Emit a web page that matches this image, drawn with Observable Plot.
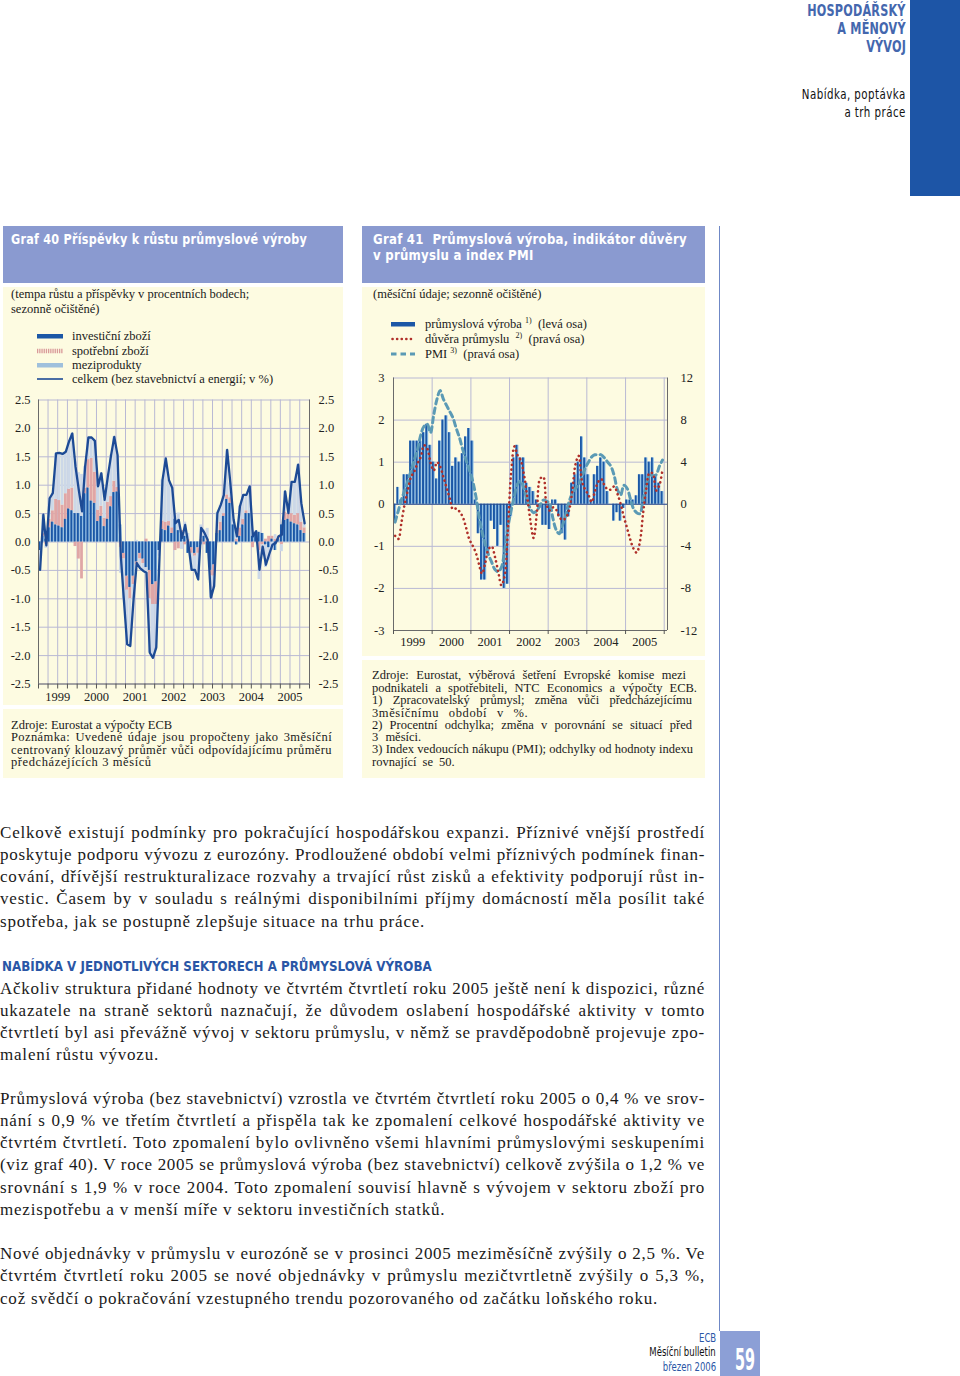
<!DOCTYPE html>
<html><head><meta charset="utf-8">
<script src="https://cdn.jsdelivr.net/npm/d3@7"></script>
<script src="https://cdn.jsdelivr.net/npm/@observablehq/plot@0.6"></script>
<style>
body{margin:0;background:#fff;}
#page{position:relative;width:960px;height:1376px;overflow:hidden;font-family:"Liberation Serif","Times New Roman",serif;color:#1a1a1a;}
.a{position:absolute;white-space:nowrap;}
.cond{font-family:"DejaVu Sans",sans-serif;}
.hdr{right:54px;text-align:right;font-weight:bold;color:#4467ae;font-size:16px;height:18px;line-height:18px;letter-spacing:0.3px;transform:scaleX(0.70);transform-origin:right center;}
.sub{right:54px;text-align:right;color:#111;font-size:13.5px;height:18px;line-height:18px;letter-spacing:0.6px;transform:scaleX(0.76);transform-origin:right center;}
.band{background:#8a9ad0;}
.box{background:#fdfbe1;}
.ttl{color:#fff;font-weight:bold;font-size:14px;height:17px;line-height:17px;letter-spacing:0.3px;transform-origin:left center;}
.sm{font-size:12.5px;height:14px;line-height:14px;}
.bl{left:0;width:705px;height:22px;line-height:22px;font-size:17px;}
.j{text-align:justify;text-align-last:justify;white-space:normal;overflow:hidden;}
.ft{right:244px;font-size:11.5px;line-height:14px;text-align:right;transform:scaleX(0.74);transform-origin:right center;}
sup{font-size:8px;vertical-align:5px;line-height:0;}
</style></head>
<body><div id="page">
<!-- header -->
<div class="a cond hdr" style="top:2px">HOSPODÁŘSKÝ</div>
<div class="a cond hdr" style="top:20px">A MĚNOVÝ</div>
<div class="a cond hdr" style="top:38px">VÝVOJ</div>
<div class="a cond sub" style="top:85px">Nabídka, poptávka</div>
<div class="a cond sub" style="top:103px">a trh práce</div>
<div class="a" style="left:910px;top:0;width:50px;height:196px;background:#1d55a6"></div>

<!-- vertical rule -->
<div class="a" style="left:719px;top:226px;width:1px;height:1105px;background:#6f88c6"></div>

<!-- chart 40 -->
<div class="a band" style="left:3px;top:226px;width:340px;height:57px"></div>
<div class="a cond ttl" style="left:11px;top:231px;transform:scaleX(0.80)">Graf 40 Příspěvky k růstu průmyslové výroby</div>
<div class="a box" style="left:3px;top:287px;width:340px;height:418px"></div>
<div class="a box" style="left:3px;top:709px;width:340px;height:69px"></div>
<div class="a sm" style="left:11px;top:287px">(tempa růstu a příspěvky v procentních bodech;</div>
<div class="a sm" style="left:11px;top:302px">sezonně očištěné)</div>
<div id="leg40"></div>
<div id="c40" class="a" style="left:3px;top:388px"></div>
<div class="a sm" style="left:11px;top:718px">Zdroje: Eurostat a výpočty ECB</div>
<div class="a sm j" style="left:11px;top:730px;width:321px;letter-spacing:0.4px">Poznámka: Uvedené údaje jsou propočteny jako 3měsíční</div>
<div class="a sm j" style="left:11px;top:743px;width:321px;letter-spacing:0.4px">centrovaný klouzavý průměr vůči odpovídajícímu průměru</div>
<div class="a sm" style="left:11px;top:755px;letter-spacing:0.6px">předcházejících 3 měsíců</div>

<!-- chart 41 -->
<div class="a band" style="left:362px;top:226px;width:343px;height:57px"></div>
<div class="a cond ttl" style="left:373px;top:231px;transform:scaleX(0.84)">Graf 41&nbsp; Průmyslová výroba, indikátor důvěry</div>
<div class="a cond ttl" style="left:373px;top:247px;transform:scaleX(0.84)">v průmyslu a index PMI</div>
<div class="a box" style="left:362px;top:287px;width:343px;height:369px"></div>
<div class="a box" style="left:362px;top:660px;width:343px;height:118px"></div>
<div class="a sm" style="left:373px;top:287px">(měsíční údaje; sezonně očištěné)</div>
<div id="leg41"></div>
<div id="c41" class="a" style="left:362px;top:370px"></div>
<div class="a sm j" style="left:372px;top:668px;width:314px">Zdroje: Eurostat, výběrová šetření Evropské komise mezi</div>
<div class="a sm j" style="left:372px;top:681px;width:325px">podnikateli a spotřebiteli, NTC Economics a výpočty ECB.</div>
<div class="a sm j" style="left:372px;top:693px;width:320px">1) Zpracovatelský průmysl; změna vůči předcházejícímu</div>
<div class="a sm" style="left:372px;top:706px;word-spacing:6px;letter-spacing:0.6px">3měsíčnímu období v %.</div>
<div class="a sm j" style="left:372px;top:718px;width:320px">2) Procentní odchylka; změna v porovnání se situací před</div>
<div class="a sm" style="left:372px;top:730px;word-spacing:4px">3 měsíci.</div>
<div class="a sm j" style="left:372px;top:742px;width:321px">3) Index vedoucích nákupu (PMI); odchylky od hodnoty indexu</div>
<div class="a sm" style="left:372px;top:755px;word-spacing:3px">rovnající se 50.</div>

<!-- body text -->
<div id="body"></div>
<div class="a cond" style="left:2px;top:957px;font-weight:bold;color:#2a56a6;font-size:14px;height:18px;line-height:18px;transform:scaleX(0.85);transform-origin:left center">NABÍDKA V JEDNOTLIVÝCH SEKTORECH A PRŮMYSLOVÁ VÝROBA</div>

<!-- footer -->
<div class="a cond ft" style="top:1331px;color:#2a56a6">ECB</div>
<div class="a cond ft" style="top:1345px;color:#111">Měsíční bulletin</div>
<div class="a cond ft" style="top:1360px;color:#2a56a6">březen 2006</div>
<svg class="a" style="left:720px;top:1331px" width="40" height="45">
  <rect x="0" y="0" width="40" height="45" fill="#8c9fd6"/>
  <text x="15" y="39" font-family="DejaVu Sans, sans-serif" font-weight="bold" font-size="30" fill="#fff" textLength="20" lengthAdjust="spacingAndGlyphs">59</text>
</svg>
</div>

<script>
// ---------------- Chart 40 data (Jan 1999 – Nov 2005) ----------------
const c40Series = ["investiční zboží", "spotřební zboží", "meziprodukty"];
const c40Labels = ["investiční zboží", "spotřební zboží", "meziprodukty", "celkem (bez stavebnictví a energií; v %)"];
const c40Inv = [
  -0.15, 0.10, 0.05, 0.25, 0.35, 0.30, 0.28, 0.25, 0.40, 0.58, 0.55, 0.50,
  0.50, 0.45, 0.85, 0.95, 0.72, 0.68, 0.36, 0.45, 0.27, 0.40, 0.62, 0.87,
  0.88, 0.30, -0.20, -0.60, -0.80, -0.60, -0.35, -0.20, -0.30, -0.45, -0.50, -0.75,
  -0.70, -0.15, 0.22, 0.20, 0.28, 0.15, 0.40, 0.20, 0.15, 0.10, -0.20, -0.10,
  -0.20, -0.10, -0.05, 0.10, -0.20, -0.50, -0.40, 0.15, 0.20, 0.45, 0.75, 0.68,
  0.30, -0.05, 0.10, 0.30, 0.50, 0.50, 0.10, 0.15, 0.17, 0.15, -0.05, -0.10,
  0.05, -0.15, 0.05, 0.30, 0.38, 0.40, 0.35, 0.32, 0.30, 0.20, 0.15];
const c40Cons = [
  0.00, 0.05, -0.05, 0.15, 0.20, 0.45, 0.45, 0.40, 0.45, 0.35, 0.40, -0.08,
  -0.30, -0.65, 0.10, 0.50, 0.75, 0.55, 0.20, 0.18, 0.15, 0.30, 0.18, 0.20,
  0.08, -0.10, -0.10, -0.25, -0.20, -0.15, -0.05, -0.10, -0.08, 0.05, -0.50, -0.35,
  -0.40, 0.00, 0.15, 0.15, 0.08, 0.10, -0.15, -0.12, 0.05, -0.05, 0.05, -0.10,
  -0.05, -0.10, 0.05, -0.05, 0.05, -0.10, -0.20, 0.05, 0.15, 0.05, 0.08, 0.10,
  0.00, 0.05, 0.15, 0.10, 0.05, 0.00, -0.10, 0.02, -0.15, -0.05, 0.05, 0.10,
  0.05, 0.05, 0.05, -0.05, 0.15, 0.10, 0.15, 0.15, 0.20, 0.15, 0.10];
const c40Inter = [
  -0.34, 0.33, -0.06, 0.37, 0.31, 0.81, 0.84, 0.90, 0.74, 0.84, 0.96, 0.91,
  0.72, 0.74, 0.38, 0.39, 0.37, 0.55, 0.42, 0.58, 0.32, 0.45, 0.73, 0.78,
  0.57, -0.45, -0.70, -0.95, -0.83, -0.26, 0.03, -0.16, -0.13, -0.14, -0.95, -0.94,
  -0.76, -0.10, 0.72, 1.12, 0.73, 0.70, 0.08, 0.31, -0.13, 0.25, 0.10, -0.29,
  -0.24, -0.46, 0.25, 0.11, 0.19, -0.38, -0.18, 0.31, 0.30, 0.33, 0.79, 0.26,
  0.09, 0.10, 0.38, 0.43, 0.28, 0.48, 0.10, 0.02, -0.51, -0.18, -0.40, -0.22,
  -0.15, 0.08, 0.00, -0.12, 0.36, 0.01, 0.56, 0.59, 0.86, 0.33, 0.08];
const c40Total = [
  -0.49, 0.48, -0.06, 0.77, 0.86, 1.56, 1.57, 1.55, 1.59, 1.77, 1.91, 1.33,
  0.92, 0.54, 1.33, 1.84, 1.84, 1.78, 0.98, 1.21, 0.74, 1.15, 1.53, 1.85,
  1.53, -0.25, -1.00, -1.80, -1.83, -1.01, -0.37, -0.46, -0.51, -0.54, -1.95, -2.04,
  -1.86, -0.25, 1.09, 1.47, 1.09, 0.95, 0.33, 0.39, 0.07, 0.30, -0.05, -0.49,
  -0.49, -0.66, 0.25, 0.16, 0.04, -0.98, -0.78, 0.51, 0.65, 0.83, 1.62, 1.04,
  0.39, 0.10, 0.63, 0.83, 0.83, 0.98, 0.10, 0.19, -0.49, -0.08, -0.40, -0.22,
  -0.05, -0.02, 0.10, 0.13, 0.89, 0.51, 1.06, 1.06, 1.36, 0.68, 0.33];
const c40YTicks = [-2.5, -2.0, -1.5, -1.0, -0.5, 0.0, 0.5, 1.0, 1.5, 2.0, 2.5];
const years = [1999, 2000, 2001, 2002, 2003, 2004, 2005];

// ---------------- Chart 41 data (Jan 1999 – Dec 2005) ----------------
const c41Labels = ["průmyslová výroba", "důvěra průmyslu", "PMI"];
const c41Prod = [
  -0.45, 0.4, 0.1, 0.7, 0.7, 1.5, 1.5, 1.5, 1.5, 1.7, 1.9, 1.4,
  1.0, 0.6, 1.5, 2.0, 2.1, 1.7, 0.9, 1.1, 1.0, 1.2, 1.6, 1.8,
  1.5, 0.1, -0.7, -1.8, -1.8, -1.2, -0.4, -0.6, -1.0, -0.5, -2.0, -1.9,
  -0.3, 1.1, 1.4, 1.1, 1.1, 0.5, 0.4, 0.3, 0.1, -0.1, -0.5, -0.5,
  -0.6, 0.1, 0.1, -0.3, -0.7, -0.85, -0.3, 0.5, 0.7, 1.0, 1.6, 1.1,
  0.7, 0.1, 0.7, 0.9, 1.1, 1.0, 0.3, 0.0, -0.4, -0.2, -0.4, -0.1,
  0.1, 0.1, 0.1, 0.2, 0.7, 0.7, 1.1, 1.0, 1.1, 0.7, 0.5, 0.3];
const c41Conf = [
  -3.0, -3.3, -1.8, 0.0, 1.3, 2.6, 3.1, 3.9, 4.5, 5.6, 5.3, 4.0,
  3.2, 4.0, 3.6, 2.6, 1.6, 0.5, -0.5, -0.4, -0.7, -1.2, -2.2, -3.3,
  -3.9, -4.6, -5.6, -6.6, -5.6, -4.3, -4.0, -5.0, -6.4, -7.7, -6.8, -2.5,
  3.0, 5.5, 4.7, 4.2, 2.9, 0.8, -1.5, -3.2, -0.8, 2.4, 2.6, 0.0,
  -0.6, -0.3, -0.5, -1.2, -1.5, -1.3, -0.6, 1.2, 3.8, 4.6, 2.2, 1.4,
  0.9, 0.2, 1.2, 2.1, 2.4, 1.8, 1.4, 1.4, 1.7, 1.0, 0.0, -1.2,
  -2.3, -3.4, -4.2, -4.6, -3.6, -0.8, 1.5, 3.0, 2.9, 1.3, 1.8, 3.3];
const c41Pmi = [
  -1.7, -0.6, 0.4, 1.3, 2.2, 3.2, 4.2, 5.2, 6.6, 7.4, 7.6, 6.8,
  8.5, 10.0, 10.8, 10.0, 9.4, 8.8, 8.2, 7.2, 6.3, 5.2, 4.2, 3.3,
  2.3, 0.8, -1.0, -2.6, -3.8, -4.8, -5.5, -6.2, -6.4, -6.0, -4.4, -2.2,
  -0.6, 0.8, 1.9, 2.2, 1.5, 0.4, -0.4, -0.8, -0.6, -0.1, 0.4, 0.3,
  0.0, -1.4, -2.4, -2.8, -2.0, -1.0, 0.2, 1.0, 1.5, 1.9, 2.6, 3.4,
  4.0, 4.5, 4.7, 4.7, 4.7, 4.4, 4.0, 3.6, 2.7, 1.4, 0.9, 1.8,
  1.5, 0.5, -0.4, -0.8, -0.9, 0.5, 1.8, 2.8, 2.7, 2.8, 3.6, 4.2];
const c41LeftTicks = [-3, -2, -1, 0, 1, 2, 3];
const c41RightTicks = [-12, -8, -4, 0, 4, 8, 12];

// ---------------- body text ----------------
const bodyLines = [
  ["Celkově existují podmínky pro pokračující hospodářskou expanzi. Příznivé vnější prostředí", 833, true],
  ["poskytuje podporu vývozu z eurozóny. Prodloužené období velmi příznivých podmínek finan-", 855, true],
  ["cování, dřívější restrukturalizace rozvahy a trvající růst zisků a efektivity podporují růst in-", 877, true],
  ["vestic. Časem by v souladu s reálnými disponibilními příjmy domácností měla posílit také", 899, true],
  ["spotřeba, jak se postupně zlepšuje situace na trhu práce.", 922, false],
  ["Ačkoliv struktura přidané hodnoty ve čtvrtém čtvrtletí roku 2005 ještě není k dispozici, různé", 989, true],
  ["ukazatele na straně sektorů naznačují, že důvodem oslabení hospodářské aktivity v tomto", 1011, true],
  ["čtvrtletí byl asi převážně vývoj v sektoru průmyslu, v němž se pravděpodobně projevuje zpo-", 1033, true],
  ["malení růstu vývozu.", 1055, false],
  ["Průmyslová výroba (bez stavebnictví) vzrostla ve čtvrtém čtvrtletí roku 2005 o 0,4 % ve srov-", 1099, true],
  ["nání s 0,9 % ve třetím čtvrtletí a přispěla tak ke zpomalení celkové hospodářské aktivity ve", 1121, true],
  ["čtvrtém čtvrtletí. Toto zpomalení bylo ovlivněno všemi hlavními průmyslovými seskupeními", 1143, true],
  ["(viz graf 40). V roce 2005 se průmyslová výroba (bez stavebnictví) celkově zvýšila o 1,2 % ve", 1165, true],
  ["srovnání s 1,9 % v roce 2004. Toto zpomalení souvisí hlavně s vývojem v sektoru zboží pro", 1188, true],
  ["mezispotřebu a v menší míře v sektoru investičních statků.", 1210, false],
  ["Nové objednávky v průmyslu v eurozóně se v prosinci 2005 meziměsíčně zvýšily o 2,5 %. Ve", 1254, true],
  ["čtvrtém čtvrtletí roku 2005 se nové objednávky v průmyslu mezičtvrtletně zvýšily o 5,3 %,", 1276, true],
  ["což svědčí o pokračování vzestupného trendu pozorovaného od začátku loňského roku.", 1299, false]
];
const bodyEl = document.getElementById("body");
bodyLines.forEach(([t, y, j]) => {
  const d = document.createElement("div");
  d.className = "a bl";
  d.style.top = (y - 11) + "px";
  const s = document.createElement("span");
  s.textContent = t;
  d.appendChild(s);
  bodyEl.appendChild(d);
  const n = t.length;
  const w0 = s.getBoundingClientRect().width;
  let ls = 0.8;
  if (j) ls = Math.max(0, Math.min(0.8, (702 - w0) / n));
  d.style.letterSpacing = ls.toFixed(2) + "px";
  if (j) {
    d.textContent = t;
    d.className = "a bl j";
  }
});

// ---------------- legends ----------------
const leg40 = document.getElementById("leg40");
const leg40Sym = [
  '<rect x="0" y="3" width="26" height="4.5" fill="#1b57a6"/>',
  '<line x1="0" y1="5" x2="26" y2="5" stroke="#d99a9a" stroke-width="4.5" stroke-dasharray="1.3,0.9"/>',
  '<rect x="0" y="3" width="26" height="4.5" fill="#9fc0dc"/>',
  '<line x1="0" y1="5" x2="26" y2="5" stroke="#1d4b95" stroke-width="1.6"/>'];
[336, 350.5, 365, 379].forEach((y, i) => {
  leg40.insertAdjacentHTML("beforeend",
    `<svg class="a" style="left:37px;top:${y-5}px" width="26" height="10">${leg40Sym[i]}</svg>` +
    `<div class="a sm" style="left:72px;top:${y-7}px">${c40Labels[i]}</div>`);
});
const leg41 = document.getElementById("leg41");
const leg41Sym = [
  '<rect x="0" y="3" width="24" height="4.5" fill="#1b57a6"/>',
  '<line x1="1.5" y1="5" x2="24" y2="5" stroke="#b0302a" stroke-width="2.6" stroke-linecap="round" stroke-dasharray="0.1,4.5"/>',
  '<line x1="0" y1="5" x2="24" y2="5" stroke="#5b9ab5" stroke-width="3" stroke-dasharray="5.5,4"/>'];
const leg41Txt = [
  `${c41Labels[0]} <sup>1)</sup>&nbsp; (levá osa)`,
  `${c41Labels[1]} &nbsp;<sup>2)</sup>&nbsp; (pravá osa)`,
  `${c41Labels[2]} <sup>3)</sup>&nbsp; (pravá osa)`];
[324, 339, 354].forEach((y, i) => {
  leg41.insertAdjacentHTML("beforeend",
    `<svg class="a" style="left:391px;top:${y-5}px" width="24" height="10">${leg41Sym[i]}</svg>` +
    `<div class="a sm" style="left:425px;top:${y-7}px">${leg41Txt[i]}</div>`);
});

// ---------------- chart 40 ----------------
const utc = (y, m) => new Date(Date.UTC(y, m, 1));
const months40 = d3.utcMonth.range(utc(1999, 0), utc(2005, 11));
const long40 = [];
[c40Inv, c40Cons, c40Inter].forEach((arr, k) => arr.forEach((v, i) =>
  long40.push({date: months40[i], end: d3.utcMonth.offset(months40[i], 1), series: c40Series[k], value: v})));
const total40 = c40Total.map((v, i) => ({mid: d3.utcDay.offset(months40[i], 15), value: v}));
const x40Domain = [utc(1999, 0), utc(2006, 0)];
const quarters40 = d3.utcMonth.every(3).range(x40Domain[0], d3.utcDay.offset(x40Domain[1], 1));
const yearMid = years.map(y => utc(y, 6));
const grid = "#b9b9d4";
const fontStyle = {background: "transparent", fontFamily: "'Liberation Serif', serif", fontSize: "12.5px", color: "#222", overflow: "visible"};

const chart40 = Plot.plot({
  width: 340, height: 318,
  marginLeft: 35, marginRight: 34, marginTop: 11.5, marginBottom: 22.5,
  style: fontStyle,
  x: {type: "utc", domain: x40Domain, label: null},
  y: {domain: [-2.5, 2.5], label: null},
  color: {domain: c40Series, range: ["#86b6e2", "#e0a6a6", "#ccd8e8"]},
  marks: [
    Plot.ruleY(c40YTicks, {stroke: grid}),
    Plot.ruleX(quarters40, {stroke: grid}),
    Plot.rectY(long40, {x1: "date", x2: "end", y: "value", fill: "series", order: c40Series, insetLeft: 0.15, insetRight: 0.15}),
    Plot.rectY(long40.filter(d => d.series === c40Series[0]), {x1: "date", x2: "end", y: "value", fill: "#1b57a6", insetLeft: 0.15, insetRight: 1.2}),
    Plot.line(total40, {x: "mid", y: "value", stroke: "#1d4b95", strokeWidth: 2.3}),
    Plot.ruleX(x40Domain, {stroke: "#6a6a6a"}),
    Plot.ruleY([c40YTicks[0]], {stroke: "#6a6a6a"}),
    Plot.axisY(c40YTicks, {anchor: "left", tickSize: 0, tickPadding: 8, tickFormat: d => d.toFixed(1), label: null}),
    Plot.axisY(c40YTicks, {anchor: "right", tickSize: 0, tickPadding: 9, tickFormat: d => d.toFixed(1), label: null}),
    Plot.axisX(quarters40, {tickSize: 5, tickFormat: () => "", label: null, stroke: "#555"}),
    Plot.axisX(yearMid, {tickSize: 0, tickPadding: 8, tickFormat: d => String(d.getUTCFullYear()), label: null})
  ]
});
document.getElementById("c40").appendChild(chart40);

// ---------------- chart 41 ----------------
const months41 = d3.utcMonth.range(utc(1999, 0), utc(2006, 0));
const prod41 = c41Prod.map((v, i) => ({date: months41[i], end: d3.utcMonth.offset(months41[i], 1), value: v}));
const lines41 = months41.map((m, i) => ({mid: d3.utcDay.offset(m, 15), conf: c41Conf[i], pmi: c41Pmi[i]}));
const x41Domain = [utc(1999, 0), utc(2006, 1)];
const yearStarts41 = years.concat([2006]).map(y => utc(y, 0));

const chart41 = Plot.plot({
  width: 343, height: 280,
  marginLeft: 31, marginRight: 38, marginTop: 7.5, marginBottom: 20,
  style: fontStyle,
  x: {type: "utc", domain: x41Domain, label: null},
  y: {domain: [-3, 3], label: null},
  marks: [
    Plot.ruleY(c41LeftTicks, {stroke: grid}),
    Plot.ruleX(yearStarts41, {stroke: grid}),
    Plot.rectY(prod41, {x1: "date", x2: "end", y: "value", fill: "#8fc0e6", insetLeft: 0.15, insetRight: 0.15}),
    Plot.rectY(prod41, {x1: "date", x2: "end", y: "value", fill: "#1b57a6", insetLeft: 0.15, insetRight: 1.2}),
    Plot.ruleY([0], {stroke: "#2b4c8c", strokeWidth: 1.2}),
    Plot.line(lines41, {x: "mid", y: d => d.pmi / 4, stroke: "#5b9ab5", strokeWidth: 3, strokeDasharray: "5.5,4", curve: "catmull-rom"}),
    Plot.line(lines41, {x: "mid", y: d => d.conf / 4, stroke: "#b0302a", strokeWidth: 2.6, strokeLinecap: "round", strokeDasharray: "0.1,4.6", curve: "catmull-rom"}),
    Plot.ruleX(x41Domain, {stroke: "#6a6a6a"}),
    Plot.ruleY([c41LeftTicks[0]], {stroke: "#6a6a6a"}),
    Plot.axisY(c41LeftTicks, {anchor: "left", tickSize: 0, tickPadding: 9, tickFormat: d => String(d), label: null}),
    Plot.axisY(c41RightTicks.map(v => v / 4), {anchor: "right", tickSize: 0, tickPadding: 13, tickFormat: d => String(d * 4), label: null}),
    Plot.axisX(yearStarts41, {tickSize: 4, tickFormat: () => "", label: null, stroke: "#555"}),
    Plot.axisX(yearMid, {tickSize: 0, tickPadding: 6.5, tickFormat: d => String(d.getUTCFullYear()), label: null})
  ]
});
document.getElementById("c41").appendChild(chart41);
</script>
</body></html>
